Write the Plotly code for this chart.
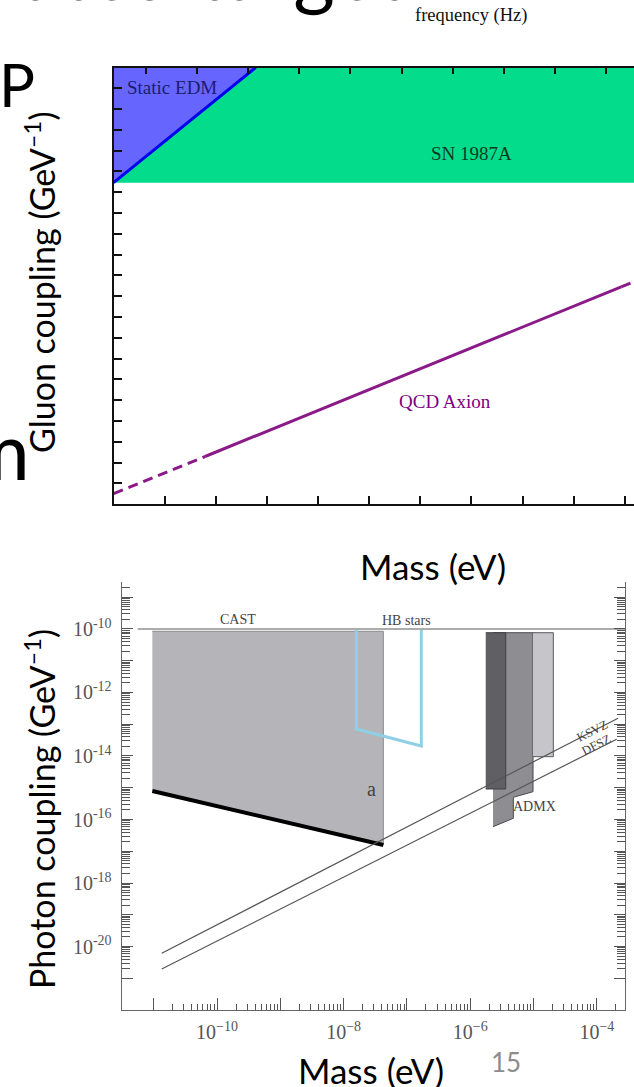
import plotly.graph_objects as go

W, H = 634, 1087

# ---------------- top chart: gluon coupling (axis units) ----------------
top_x_range = [0, 10.18]
top_y_range = [0, 21]
top_x_ticks = list(range(1, 11))
top_freq_tick0 = 0.634
top_y_ticks = list(range(1, 21))

sn_x = [0, 10.18, 10.18, 0]
sn_y = [15.46, 15.46, 21.0, 21.0]
edm_x = [0, 2.78, 0]
edm_y = [15.46, 21.0, 21.0]
edm_edge_x = [0, 2.78]
edm_edge_y = [15.46, 21.0]
qcd_dash1_x = [0, 1.79]
qcd_dash1_y = [0.50, 2.29]
qcd_solid_x = [1.79, 9.93]
qcd_solid_y = [2.29, 10.45]
qcd_dash2_x = [9.93, 10.18]
qcd_dash2_y = [10.45, 10.70]

top_labels = ["Static EDM", "SN 1987A", "QCD Axion"]
top_label_x = [0.23, 7.01, 6.49]
top_label_y = [20.05, 16.87, 4.93]

# ---------------- bottom chart: photon coupling (log10 values) ----------------
ph_x_range = [-11.506, -3.555]
ph_y_range = [-22.0, -8.52]
ph_x_decades = list(range(-11, -3))
ph_x_labelled = [-10, -8, -6, -4]
ph_y_decades = list(range(-21, -8))
ph_y_labelled = [-20, -18, -16, -14, -12, -10]

hb_x = [-11.253, -3.555]
hb_y = [-10.0, -10.0]
cast_x = [-11.022, -7.373, -7.373, -11.022]
cast_y = [-10.072, -10.072, -16.803, -15.102]
cast_bound_x = [-11.022, -7.373]
cast_bound_y = [-15.102, -16.803]
hbblue_x = [-7.799, -7.799, -6.773, -6.773]
hbblue_y = [-10.03, -13.150, -13.685, -10.03]
admx_x = [-5.640, -5.008, -5.008, -5.319, -5.319, -5.640]
admx_y = [-10.117, -10.117, -15.124, -15.301, -15.962, -16.227]
dark_x = [-5.755, -5.439, -5.439, -5.755]
dark_y = [-10.117, -10.117, -15.039, -15.039]
light_x = [-5.008, -4.687, -4.687, -5.008]
light_y = [-10.117, -10.117, -14.022, -14.022]
ksvz_x = [-10.874, -3.665]
ksvz_y = [-20.214, -12.81]
dfsz_x = [-10.874, -3.686]
dfsz_y = [-20.709, -13.471]

ph_labels = ["CAST", "HB stars", "a", "ADMX", "KSVZ", "DFSZ"]
ph_label_x = [-9.676, -7.014, -7.564, -4.98, -4.068, -4.013]
ph_label_y = [-9.695, -9.717, -15.049, -15.597, -13.213, -13.654]
ph_label_size = [14, 14, 20, 14, 12.5, 12.5]
ph_label_angle = [0, 0, 0, 0, -27, -27]


def p(v):
    return [10 ** t for t in v]


fig = go.Figure()

# top chart traces
fig.add_trace(go.Scatter(x=sn_x, y=sn_y, fill="toself", fillcolor="#03dc8a", mode="none",
                         xaxis="x", yaxis="y", hoverinfo="skip"))
fig.add_trace(go.Scatter(x=edm_x, y=edm_y, fill="toself", fillcolor="#6666ff", mode="none",
                         xaxis="x", yaxis="y", hoverinfo="skip"))
fig.add_trace(go.Scatter(x=edm_edge_x, y=edm_edge_y, mode="lines",
                         line=dict(color="#0000ee", width=3), xaxis="x", yaxis="y"))
for xs, ys, dash in [(qcd_dash1_x, qcd_dash1_y, "10px,6px"),
                     (qcd_solid_x, qcd_solid_y, "solid"),
                     (qcd_dash2_x, qcd_dash2_y, "10px,6px")]:
    fig.add_trace(go.Scatter(x=xs, y=ys, mode="lines",
                             line=dict(color="#8b1a89", width=3, dash=dash),
                             xaxis="x", yaxis="y"))
# invisible trace for the frequency (top) axis
fig.add_trace(go.Scatter(x=top_x_range, y=[None, None], mode="lines", xaxis="x3", yaxis="y",
                         showlegend=False, hoverinfo="skip"))

# bottom chart traces
fig.add_trace(go.Scatter(x=p(cast_x), y=p(cast_y), fill="toself", fillcolor="#b5b5b9",
                         mode="lines", line=dict(color="#8a8a8e", width=1),
                         xaxis="x2", yaxis="y2", hoverinfo="skip"))
fig.add_trace(go.Scatter(x=p(cast_bound_x), y=p(cast_bound_y), mode="lines",
                         line=dict(color="#000000", width=4), xaxis="x2", yaxis="y2"))
fig.add_trace(go.Scatter(x=p(hb_x), y=p(hb_y), mode="lines",
                         line=dict(color="#5a5a5a", width=1.2), xaxis="x2", yaxis="y2"))
fig.add_trace(go.Scatter(x=p(hbblue_x), y=p(hbblue_y), mode="lines",
                         line=dict(color="#8fd0e6", width=3), xaxis="x2", yaxis="y2"))
fig.add_trace(go.Scatter(x=p(admx_x), y=p(admx_y), fill="toself", fillcolor="#8e8e92",
                         mode="lines", line=dict(color="#4a4a4e", width=1),
                         xaxis="x2", yaxis="y2", hoverinfo="skip"))
fig.add_trace(go.Scatter(x=p(dark_x), y=p(dark_y), fill="toself", fillcolor="#5f5f64",
                         mode="lines", line=dict(color="#3f3f43", width=1),
                         xaxis="x2", yaxis="y2", hoverinfo="skip"))
fig.add_trace(go.Scatter(x=p(light_x), y=p(light_y), fill="toself", fillcolor="#c6c6ca",
                         mode="lines", line=dict(color="#5a5a5e", width=1),
                         xaxis="x2", yaxis="y2", hoverinfo="skip"))
fig.add_trace(go.Scatter(x=p(ksvz_x), y=p(ksvz_y), mode="lines",
                         line=dict(color="#555555", width=1.2), xaxis="x2", yaxis="y2"))
fig.add_trace(go.Scatter(x=p(dfsz_x), y=p(dfsz_y), mode="lines",
                         line=dict(color="#555555", width=1.2), xaxis="x2", yaxis="y2"))

# bottom axis tick construction
x_major = [10.0 ** k for k in ph_x_decades]
x_text = [("10<sup>\u2212%d</sup>" % (-k)) if k in ph_x_labelled else "" for k in ph_x_decades]
x_minor = [m * 10.0 ** k for k in ph_x_decades for m in range(2, 10)]
y_major = [10.0 ** k for k in ph_y_decades]
y_text = [("10<sup>-%d</sup>" % (-k)) if k in ph_y_labelled else "" for k in ph_y_decades]
y_minor = [m * 10.0 ** k for k in ph_y_decades for m in range(2, 10)]

top_dom_y = [1 - 504.1 / H, 1 - 67.5 / H]
bot_dom_y = [1 - 1010 / H, 1 - 582 / H]
serif = "Liberation Serif"
slide_font = "Lato"

fig.update_layout(
    width=W, height=H, margin=dict(l=0, r=0, t=0, b=0),
    paper_bgcolor="white", plot_bgcolor="rgba(0,0,0,0)", showlegend=False,
    xaxis=dict(domain=[113.6 / W, 1.0], range=top_x_range, anchor="y",
               tickmode="array", tickvals=top_x_ticks, ticks="inside", ticklen=8,
               tickwidth=1.5, tickcolor="#111", showticklabels=False,
               showline=True, linecolor="#111", linewidth=2, showgrid=False, zeroline=False),
    xaxis3=dict(overlaying="x", side="top", anchor="y", range=top_x_range,
                tickmode="linear", tick0=top_freq_tick0, dtick=1, ticks="inside", ticklen=6,
                tickwidth=1.5, tickcolor="#111", showticklabels=False,
                showline=True, linecolor="#111", linewidth=2, showgrid=False, zeroline=False),
    yaxis=dict(domain=top_dom_y, range=top_y_range, anchor="x",
               tickmode="array", tickvals=top_y_ticks, ticks="inside", ticklen=8,
               tickwidth=1.5, tickcolor="#111", showticklabels=False,
               showline=True, linecolor="#111", linewidth=2, showgrid=False, zeroline=False),
    xaxis2=dict(domain=[121.7 / W, 625 / W], type="log", range=ph_x_range, anchor="y2",
                tickmode="array", tickvals=x_major, ticktext=x_text, ticks="inside",
                ticklen=12, tickcolor="#555", tickwidth=1,
                minor=dict(tickmode="array", tickvals=x_minor, ticks="inside", ticklen=6,
                           tickcolor="#555", tickwidth=1, showgrid=False),
                showline=True, linecolor="#666", linewidth=1.2, showgrid=False, zeroline=False,
                tickfont=dict(family=serif, size=20, color="#555"), ticklabelstandoff=4),
    yaxis2=dict(domain=bot_dom_y, type="log", range=ph_y_range, anchor="x2",
                tickmode="array", tickvals=y_major, ticktext=y_text, ticks="inside",
                ticklen=11, tickcolor="#555", tickwidth=1.3, mirror="ticks",
                minor=dict(tickmode="array", tickvals=y_minor, ticks="inside", ticklen=8,
                           tickcolor="#555", tickwidth=1, showgrid=False),
                showline=True, linecolor="#666", linewidth=1.2, showgrid=False, zeroline=False,
                tickfont=dict(family=serif, size=20, color="#555"), ticklabelstandoff=5),
)

ann = []
# top chart labels
top_colors = ["#1c1c70", "#0b3b1f", "#800080"]
for t, x, y, c, anc in zip(top_labels, top_label_x, top_label_y, top_colors,
                           ["left", "center", "center"]):
    ann.append(dict(text=t, x=x, y=y, xref="x", yref="y", showarrow=False, xanchor=anc,
                    yanchor="middle", font=dict(family=serif, size=19, color=c)))
# bottom chart labels
for t, x, y, s, a in zip(ph_labels, ph_label_x, ph_label_y, ph_label_size, ph_label_angle):
    ann.append(dict(text=t, x=x, y=y, xref="x2", yref="y2", showarrow=False,
                    xanchor="center", yanchor="middle", textangle=a,
                    font=dict(family=serif, size=s, color="#444")))


# slide text (paper coordinates)
def px(xp, yp):
    return xp / W, 1 - yp / H


def slide_text(text, xp, yp, size, xanchor="center", angle=0, color="#000", family=slide_font):
    tx, ty = px(xp, yp)
    ann.append(dict(text=text, x=tx, y=ty, xref="paper", yref="paper", showarrow=False,
                    xanchor=xanchor, yanchor="middle", textangle=angle,
                    font=dict(family=family, size=size, color=color)))


slide_text("frequency (Hz)", 471, 16, 18.5, family=serif, color="#111")
slide_text("Motivated target", 407, -31, 80, xanchor="right")
slide_text("P", -3, 84, 60, xanchor="left")
slide_text("m", -38, 449, 80, xanchor="left")
slide_text("Gluon coupling (GeV<sup>\u20131</sup>)", 40, 283, 34, angle=-90)
slide_text("Photon coupling (GeV<sup>\u20131</sup>)", 40, 809, 34, angle=-90)
slide_text("Mass (eV)", 432.5, 566, 35)
slide_text("Mass (eV)", 371, 1070, 35)
slide_text("15", 506, 1062, 26, color="#8c8c8c")

fig.update_layout(annotations=ann)
fig.write_html("out.html", post_script="document.body.style.margin='0';",
               config={"displayModeBar": False})
